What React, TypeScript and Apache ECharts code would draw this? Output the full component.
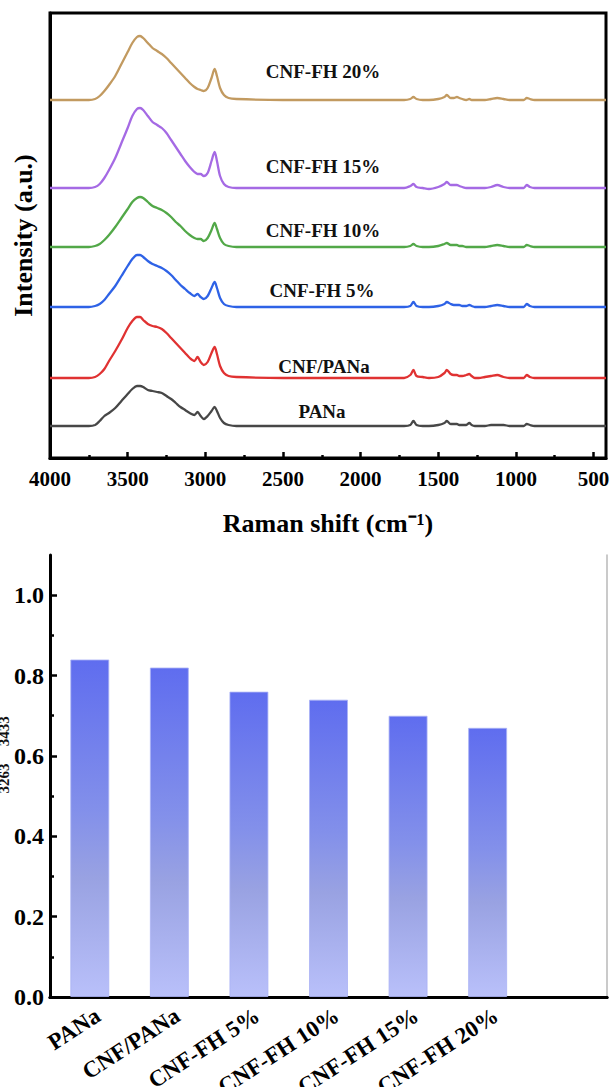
import React, { useEffect, useRef } from "react";
import * as echarts from "echarts";

// ---------- Top chart: Raman spectra ----------
const wavenumbers = [
  4000, 3850, 3750, 3710, 3680, 3650, 3620, 3580, 3540, 3500,
  3470, 3440, 3420, 3400, 3370, 3340, 3310, 3280, 3250, 3220,
  3190, 3160, 3130, 3100, 3070, 3050, 3030, 3010, 2985, 2960,
  2940, 2925, 2905, 2880, 2850, 2800, 2500, 2200, 1900, 1720,
  1680, 1660, 1640, 1600, 1560, 1500, 1460, 1445, 1420, 1400,
  1380, 1365, 1345, 1320, 1300, 1285, 1265, 1240, 1200, 1160,
  1120, 1080, 1040, 990, 950, 930, 910, 880, 800, 700,
  600, 500, 420,
];

const panaSpectrum = [
  0, 0, 0, 1, 5, 10, 13, 18, 25, 32,
  37, 40, 40, 39, 36, 35, 34, 33, 30, 27,
  23, 19, 16, 13, 11, 14, 10, 7, 10, 15,
  19, 15, 8, 3, 1, 0, 0, 0, 0, 0,
  1, 5, 1, 0, 0, 1, 3, 5, 2, 2,
  2, 1, 1, 1, 3, 1, 0, 0, 0, 1,
  1, 1, 0, 0, 0, 2, 1, 0, 0, 0,
  0, 0, 0,
];
const cnfPanaSpectrum = [
  0, 0, 0, 1, 4, 9, 17, 27, 38, 50,
  57, 61, 61, 58, 54, 52, 51, 49, 45, 40,
  35, 30, 25, 20, 17, 21, 16, 13, 16, 25,
  31, 24, 12, 5, 2, 1, 0, 0, 0, 0,
  3, 8, 2, 1, 0, 1, 5, 8, 4, 3,
  3, 2, 2, 3, 4, 2, 0, 0, 1, 2,
  3, 1, 0, 0, 0, 3, 1, 0, 0, 0,
  0, 0, 0,
];
const fh5Spectrum = [
  0, 0, 0, 1, 3, 7, 13, 21, 31, 41,
  48, 52, 52, 50, 46, 43, 41, 39, 36, 32,
  27, 22, 18, 14, 11, 13, 10, 8, 11, 19,
  25, 19, 9, 3, 1, 0, 0, 0, 0, 0,
  1, 5, 1, 0, 0, 1, 3, 5, 3, 2,
  2, 2, 1, 1, 2, 1, 0, 0, 0, 1,
  2, 1, 0, 0, 0, 3, 1, 0, 0, 0,
  0, 0, 0,
];
const fh10Spectrum = [
  0, 0, 0, 1, 3, 7, 12, 20, 29, 38,
  45, 49, 50, 49, 45, 41, 39, 37, 34, 30,
  25, 21, 16, 12, 9, 8, 8, 6, 9, 17,
  24, 18, 9, 3, 1, 0, 0, 0, 0, 0,
  1, 3, 1, 0, 0, 1, 3, 4, 2, 2,
  2, 1, 1, 0, 0, 0, 0, 0, 0, 1,
  2, 1, 0, 0, 0, 2, 1, 0, 0, 0,
  0, 0, 0,
];
const fh15Spectrum = [
  0, 0, 0, 1, 4, 10, 18, 30, 45, 60,
  72, 79, 80, 78, 72, 66, 63, 60, 55, 48,
  41, 34, 27, 21, 16, 14, 14, 12, 15, 27,
  36, 27, 12, 4, 1, 0, 0, 0, 0, 0,
  2, 4, 1, 0, -1, 1, 4, 6, 3, 3,
  3, 2, 1, 0, 0, 0, 0, 0, 0, 1,
  3, 1, 0, 0, 0, 3, 1, 0, 0, 0,
  0, 0, 0,
];
const fh20Spectrum = [
  0, 0, 0, 1, 4, 9, 15, 24, 36, 48,
  57, 63, 64, 62, 57, 52, 49, 46, 42, 37,
  32, 27, 22, 17, 13, 11, 10, 9, 12, 22,
  31, 24, 12, 5, 2, 1, 0, 0, 0, 0,
  1, 3, 1, 0, 0, 1, 3, 5, 2, 2,
  3, 2, 1, 0, 1, 0, 0, 0, 0, 1,
  2, 1, 0, 0, 0, 2, 1, 0, 0, 0,
  0, 0, 0,
];

const spectraNames = ["PANa", "CNF/PANa", "CNF-FH 5%", "CNF-FH 10%", "CNF-FH 15%", "CNF-FH 20%"];
const spectraData = [panaSpectrum, cnfPanaSpectrum, fh5Spectrum, fh10Spectrum, fh15Spectrum, fh20Spectrum];
const spectraOffsets = [32, 80, 151, 211, 270, 358];
const spectraColors = ["#474747", "#e03232", "#2e62e6", "#52a848", "#a56ae4", "#c29a60"];

const ramanMajorTicks = [500, 1000, 1500, 2000, 2500, 3000, 3500, 4000];
const ramanMinorTicks = [750, 1250, 1750, 2250, 2750, 3250, 3750];

// ---------- Bottom chart: intensity ratio ----------
const barCategories = ["PANa", "CNF/PANa", "CNF-FH 5%", "CNF-FH 10%", "CNF-FH 15%", "CNF-FH 20%"];
const ratioValues = [0.84, 0.82, 0.76, 0.74, 0.7, 0.67];
const ratioMajorTicks = [0, 0.2, 0.4, 0.6, 0.8, 1.0];
const ratioMinorTicks = [0.1, 0.3, 0.5, 0.7, 0.9];

const SERIF = '"Liberation Serif", "Times New Roman", serif';

// annotation text positions (pixels)
const spectraLabelPos = [
  [322, 411],
  [324, 366],
  [322, 290],
  [323, 230],
  [323, 166],
  [323, 71],
];

export default function App() {
  const ref = useRef<HTMLDivElement>(null);

  useEffect(() => {
    if (!ref.current) return;
    const chart = echarts.init(ref.current, undefined, { renderer: "svg" });

    const lineSeries = spectraNames.map((name, k) => ({
      name,
      type: "line",
      xAxisIndex: 0,
      yAxisIndex: 0,
      showSymbol: false,
      symbol: "none",
      smooth: 0.3,
      data: wavenumbers.map((w, i) => [w, spectraOffsets[k] + spectraData[k][i]]),
      lineStyle: { color: spectraColors[k], width: 2.3 },
      z: 3,
    }));

    const barSeries = {
      type: "bar",
      xAxisIndex: 2,
      yAxisIndex: 1,
      barWidth: 39,
      data: barCategories.map((c, i) => [i + 1, ratioValues[i]]),
      itemStyle: {
        color: new echarts.graphic.LinearGradient(0, 0, 0, 1, [
          { offset: 0, color: "#5f6def" },
          { offset: 0.45, color: "#8390ea" },
          { offset: 0.65, color: "#99a2e2" },
          { offset: 1, color: "#b9c0fa" },
        ]),
        borderColor: "rgba(170,178,245,0.8)",
        borderWidth: 1,
      },
    };

    const bold = { fontFamily: SERIF, fontWeight: "bold", color: "#000" };

    const option = {
      animation: false,
      backgroundColor: "#fff",
      textStyle: { fontFamily: SERIF },
      grid: [
        { left: 50, top: 13, width: 556, height: 445, show: true, borderColor: "#000", borderWidth: 3, backgroundColor: "transparent", containLabel: false, outerBoundsMode: "none" },
        { left: 50, top: 555, width: 557, height: 442, containLabel: false, outerBoundsMode: "none" },
      ],
      xAxis: [
        {
          gridIndex: 0,
          type: "value",
          min: 420,
          max: 4000,
          inverse: true,
          position: "bottom",
          axisLine: { show: true, lineStyle: { color: "#000", width: 3 } },
          axisTick: { show: true, inside: true, length: 6, lineStyle: { width: 2.5, color: "#000" }, customValues: ramanMajorTicks },
          axisLabel: { ...bold, fontSize: 21, margin: 10, customValues: ramanMajorTicks, formatter: (v: number) => String(v) },
          splitLine: { show: false },
          name: "Raman shift (cm⁻¹)",
          nameLocation: "middle",
          nameGap: 52,
          nameTextStyle: { ...bold, fontSize: 26 },
        },
        {
          gridIndex: 0,
          type: "value",
          min: 420,
          max: 4000,
          inverse: true,
          position: "bottom",
          axisLine: { show: false },
          axisTick: { show: true, inside: true, length: 3, lineStyle: { width: 2.5, color: "#000" }, customValues: ramanMinorTicks },
          axisLabel: { show: false },
          splitLine: { show: false },
        },
        {
          gridIndex: 1,
          type: "value",
          min: 0.5,
          max: 7.5,
          position: "bottom",
          axisLine: { show: true, lineStyle: { color: "#000", width: 3 } },
          axisTick: { show: false },
          axisLabel: {
            ...bold,
            fontSize: 23,
            rotate: 33,
            margin: 16,
            customValues: [1.1, 2.1, 3.1, 4.1, 5.1, 6.1],
            formatter: (v: number) => barCategories[Math.round(v) - 1] ?? "",
          },
          splitLine: { show: false },
        },
        {
          gridIndex: 1,
          type: "value",
          min: 0.5,
          max: 7.5,
          position: "top",
          axisLine: { show: true, lineStyle: { color: "#000", width: 3 } },
          axisTick: { show: false },
          axisLabel: { show: false },
          splitLine: { show: false },
        },
      ],
      yAxis: [
        {
          gridIndex: 0,
          type: "value",
          min: 0,
          max: 445,
          axisLine: { show: true, lineStyle: { color: "#000", width: 3 } },
          axisTick: { show: false },
          axisLabel: { show: false },
          splitLine: { show: false },
          name: "Intensity (a.u.)",
          nameLocation: "middle",
          nameRotate: 90,
          nameGap: 14,
          nameTextStyle: { ...bold, fontSize: 26 },
        },
        {
          gridIndex: 1,
          type: "value",
          min: 0,
          max: 1.1,
          position: "left",
          axisLine: { show: true, lineStyle: { color: "#000", width: 3 } },
          axisTick: { show: true, inside: true, length: 7, lineStyle: { width: 2.5, color: "#000" }, customValues: ratioMajorTicks },
          axisLabel: { ...bold, fontSize: 24, margin: 6, customValues: ratioMajorTicks, formatter: (v: number) => v.toFixed(1) },
          splitLine: { show: false },
        },
        {
          gridIndex: 1,
          type: "value",
          min: 0,
          max: 1.1,
          position: "left",
          axisLine: { show: false },
          axisTick: { show: true, inside: true, length: 4, lineStyle: { width: 2.5, color: "#000" }, customValues: ratioMinorTicks },
          axisLabel: { show: false },
          splitLine: { show: false },
        },
        {
          gridIndex: 1,
          type: "value",
          min: 0,
          max: 1.1,
          position: "right",
          axisLine: { show: true, lineStyle: { color: "#b8b8b8", width: 1.5 } },
          axisTick: { show: false },
          axisLabel: { show: false },
          splitLine: { show: false },
        },
      ],
      series: [...lineSeries, barSeries],
      graphic: [
        ...spectraNames.map((name, k) => ({
          type: "text",
          x: spectraLabelPos[k][0],
          y: spectraLabelPos[k][1],
          z: 10,
          style: {
            text: name,
            fill: "#111",
            fontSize: 19,
            fontWeight: "bold",
            fontFamily: SERIF,
            align: "center",
            verticalAlign: "middle",
            textAlign: "center",
            textVerticalAlign: "middle",
          },
        })),
        {
          type: "text",
          x: -6,
          y: 760,
          rotation: Math.PI / 2,
          z: 10,
          style: {
            text: "{a|I}{b|3263}{a|/I}{b|3433}",
            fill: "#111",
            align: "center",
            verticalAlign: "middle",
            textAlign: "center",
            textVerticalAlign: "middle",
            rich: {
              a: { fontSize: 26, fontWeight: "bold", fontFamily: SERIF, fill: "#111", lineHeight: 34, verticalAlign: "top" },
              b: { fontSize: 15, fontWeight: "bold", fontFamily: SERIF, fill: "#111", lineHeight: 34, verticalAlign: "bottom" },
            },
          },
        },
      ],
    };

    chart.setOption(option as any);
    return () => chart.dispose();
  }, []);

  return (
    <div
      ref={ref}
      style={{ position: "absolute", left: 0, top: 0, width: 610, height: 1087 }}
    />
  );
}
